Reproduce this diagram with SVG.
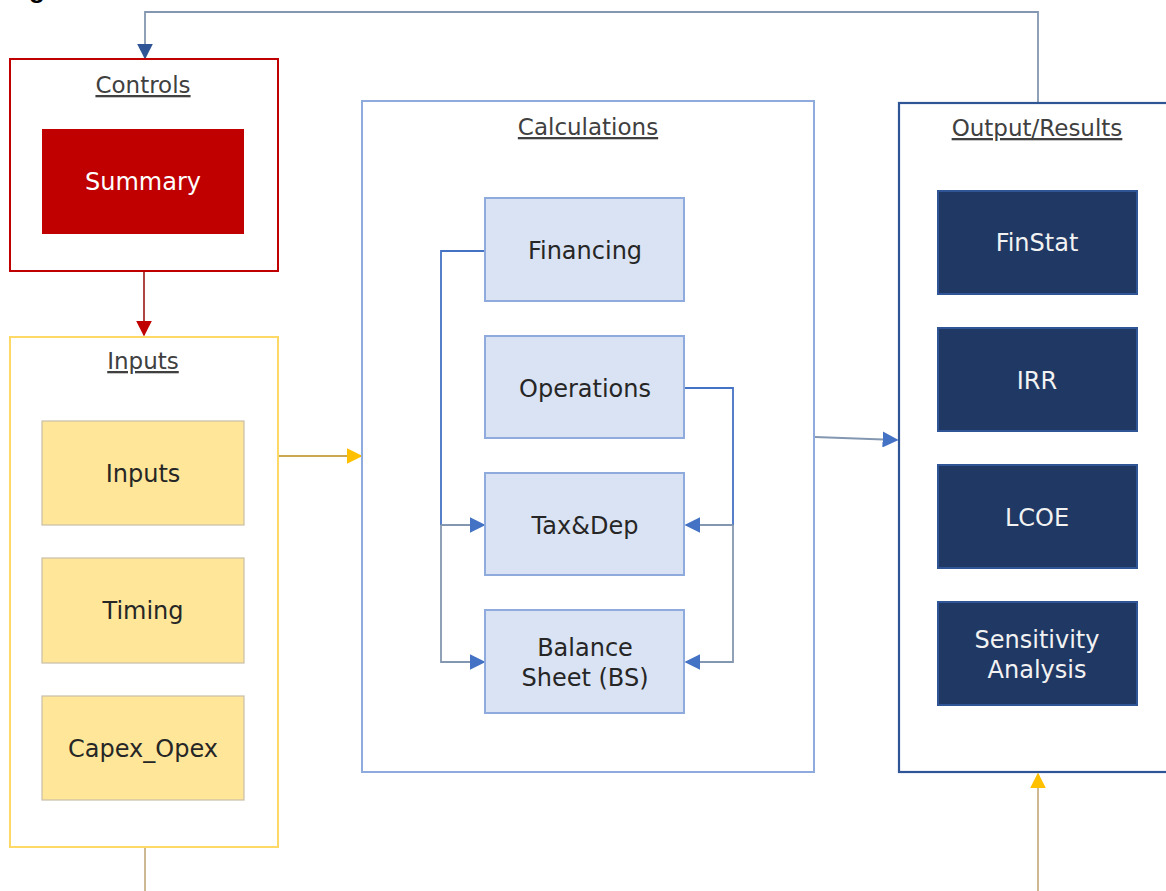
<svg xmlns="http://www.w3.org/2000/svg" width="1166" height="891" viewBox="0 0 1166 891">
<defs>
<style>
text{font-family:"DejaVu Sans","Liberation Sans",sans-serif;text-anchor:middle;}
.title{font-size:23px;fill:#404040;text-decoration:underline;}
.lbl{font-size:24px;fill:#262626;}
.wlbl{font-size:24px;fill:#F2F2F2;}
.yel{fill:#FFE699;stroke:#C9BFA8;stroke-width:1.2;}
.blu{fill:#DAE3F3;stroke:#8FAADC;stroke-width:2;}
.nav{fill:#203864;stroke:#2F5597;stroke-width:2;}
.ln{fill:none;stroke-width:1.8;}
</style>
<marker id="aNavy" viewBox="0 0 10 10" markerWidth="16" markerHeight="16" refX="9" refY="5" orient="auto" markerUnits="userSpaceOnUse"><path d="M0,0 L10,5 L0,10 z" fill="#2F5597"/></marker>
<marker id="aRed" viewBox="0 0 10 10" markerWidth="16" markerHeight="16" refX="9" refY="5" orient="auto" markerUnits="userSpaceOnUse"><path d="M0,0 L10,5 L0,10 z" fill="#C00000"/></marker>
<marker id="aGold" viewBox="0 0 10 10" markerWidth="16" markerHeight="16" refX="9" refY="5" orient="auto" markerUnits="userSpaceOnUse"><path d="M0,0 L10,5 L0,10 z" fill="#FFC000"/></marker>
<marker id="aB2" viewBox="0 0 10 10" markerWidth="16" markerHeight="16" refX="9" refY="5" orient="auto" markerUnits="userSpaceOnUse"><path d="M0,0 L10,5 L0,10 z" fill="#4472C4"/></marker>
</defs>
<rect width="1166" height="891" fill="#FFFFFF"/>
<text x="37" y="-2" style="font-family:'Liberation Sans',sans-serif;font-size:26px;font-weight:bold;fill:#000;text-anchor:middle;">g</text>

<g id="connectors">
<path class="ln" d="M1038,102 V12 H145 V58" stroke="#8497B0" marker-end="url(#aNavy)"/>
<path class="ln" d="M144,271 V335" stroke="#A5312F" marker-end="url(#aRed)"/>
<path class="ln" d="M279,456 H361" stroke="#C9A850" marker-end="url(#aGold)"/>
<path class="ln" d="M815,437 L897,440" stroke="#8497B0" marker-end="url(#aB2)"/>
<path class="ln" d="M145,848 V891" stroke="#C9B28A"/>
<path class="ln" d="M1038,891 V774" stroke="#C9B28A" marker-end="url(#aGold)"/>
<path class="ln" d="M486,251 H441 V525" stroke="#4472C4"/>
<path class="ln" d="M441,525 H484" stroke="#8497B0" marker-end="url(#aB2)"/>
<path class="ln" d="M441,525 V662 H484" stroke="#8497B0" marker-end="url(#aB2)"/>
<path class="ln" d="M684,388 H733 V525" stroke="#4472C4"/>
<path class="ln" d="M733,525 H686" stroke="#8497B0" marker-end="url(#aB2)"/>
<path class="ln" d="M733,525 V662 H686" stroke="#8497B0" marker-end="url(#aB2)"/>
</g>

<g id="controls">
<rect x="10" y="59" width="268" height="212" fill="#FFFFFF" stroke="#C00000" stroke-width="2"/>
<text class="title" x="143" y="93">Controls</text>
</g>
<g id="summary">
<rect x="42" y="129" width="202" height="105" fill="#C00000"/>
<text class="wlbl" x="143" y="190" style="fill:#FFFFFF">Summary</text>
</g>

<g id="inputs-group">
<rect x="10" y="337" width="268" height="510" fill="none" stroke="#FFD966" stroke-width="2"/>
<text class="title" x="143" y="369">Inputs</text>
</g>
<g id="inputs">
<rect class="yel" x="42" y="421" width="202" height="104"/>
<text class="lbl" x="143" y="482">Inputs</text>
</g>
<g id="timing">
<rect class="yel" x="42" y="558" width="202" height="105"/>
<text class="lbl" x="143" y="619">Timing</text>
</g>
<g id="capex-opex">
<rect class="yel" x="42" y="696" width="202" height="104"/>
<text class="lbl" x="143" y="757">Capex_Opex</text>
</g>

<g id="calculations">
<rect x="362" y="101" width="452" height="671" fill="none" stroke="#8FAADC" stroke-width="2"/>
<text class="title" x="588" y="135">Calculations</text>
</g>
<g id="financing">
<rect class="blu" x="485" y="198" width="199" height="103"/>
<text class="lbl" x="585" y="259">Financing</text>
</g>
<g id="operations">
<rect class="blu" x="485" y="336" width="199" height="102"/>
<text class="lbl" x="585" y="397">Operations</text>
</g>
<g id="taxdep">
<rect class="blu" x="485" y="473" width="199" height="102"/>
<text class="lbl" x="585" y="534">Tax&amp;Dep</text>
</g>
<g id="balance-sheet">
<rect class="blu" x="485" y="610" width="199" height="103"/>
<text class="lbl" x="585" y="656">Balance</text>
<text class="lbl" x="585" y="686">Sheet (BS)</text>
</g>

<g id="output">
<rect x="899" y="103" width="280" height="669" fill="none" stroke="#2F5597" stroke-width="2.2"/>
<text class="title" x="1037" y="136">Output/Results</text>
</g>
<g id="finstat">
<rect class="nav" x="938" y="191" width="199" height="103"/>
<text class="wlbl" x="1037" y="251">FinStat</text>
</g>
<g id="irr">
<rect class="nav" x="938" y="328" width="199" height="103"/>
<text class="wlbl" x="1037" y="389">IRR</text>
</g>
<g id="lcoe">
<rect class="nav" x="938" y="465" width="199" height="103"/>
<text class="wlbl" x="1037" y="526">LCOE</text>
</g>
<g id="sensitivity">
<rect class="nav" x="938" y="602" width="199" height="103"/>
<text class="wlbl" x="1037" y="648">Sensitivity</text>
<text class="wlbl" x="1037" y="678">Analysis</text>
</g>
</svg>
